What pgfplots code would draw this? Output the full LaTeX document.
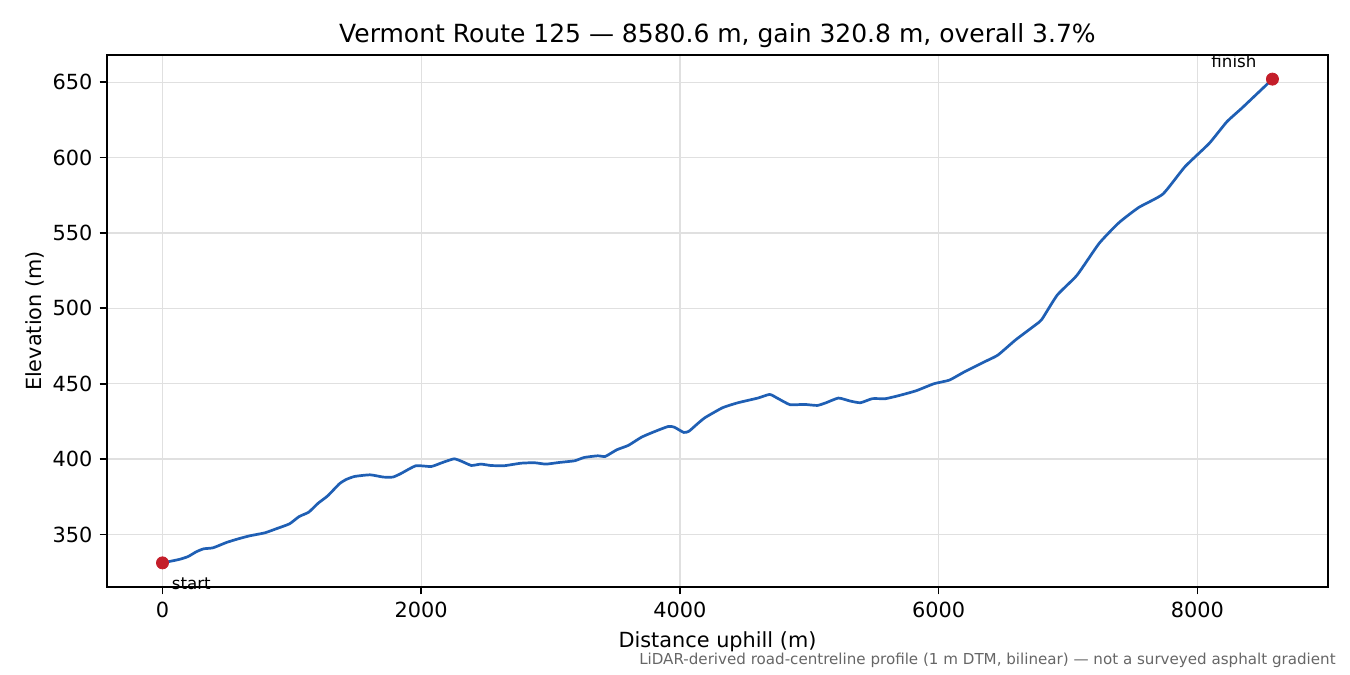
\documentclass[border=0pt]{standalone}
\usepackage{fontspec}
\setmainfont{DejaVu Sans}
\usepackage{pgfplots}
\pgfplotsset{compat=1.18}
\definecolor{routeblue}{HTML}{1F5FB4}
\definecolor{markred}{HTML}{C41E2A}
\definecolor{notegray}{HTML}{666666}

\begin{document}
\begin{tikzpicture}
  % 1 px of the reference = 0.48pt; axis box lower-left at px (107,587)
  \useasboundingbox (-51.36pt,-42.24pt) rectangle (596.64pt,281.76pt);
  \begin{axis}[
      scale only axis,
      width=586.08pt, height=255.36pt,
      xmin=-429, xmax=9010,
      ymin=315.2, ymax=668.0,
      xtick={0,2000,4000,6000,8000},
      ytick={350,400,450,500,550,600,650},
      /pgf/number format/1000 sep={},
      /pgf/number format/assume math mode=true,
      tick label style={font=\fontsize{10}{12}\selectfont},
      tick pos=left,
      tick align=outside,
      major tick length=3.5pt,
      every tick/.style={black, line width=0.8pt},
      axis line style={line width=0.8pt},
      grid=major,
      major grid style={color=black!12, line width=0.6pt},
      xlabel={Distance uphill (m)},
      ylabel={Elevation (m)},
      label style={font=\fontsize{10}{12}\selectfont},
      xlabel style={yshift=0pt},
      ylabel style={yshift=-3pt},
      title={Vermont Route 125 — 8580.6 m, gain 320.8 m, overall 3.7\%},
      title style={font=\fontsize{12}{14}\selectfont, yshift=-6pt},
      clip=false,
    ]
    \addplot[routeblue, line width=1.3pt, smooth, tension=0.3] coordinates {
      (0,331.2) (130,333.5) (198,335.4) (260,338.5) (317,340.5) (391,341.2)
      (494,344.7) (580,347) (672,349.1) (790,351.1) (879,353.8) (982,357.1)
      (1056,361.9) (1130,364.8) (1204,370.8) (1278,375.7) (1367,383.6)
      (1420,386.5) (1485,388.5) (1604,389.6) (1707,388.1) (1781,388.1)
      (1840,390.3) (1959,395.6) (2077,395.1) (2166,397.8) (2254,400.2)
      (2314,398.5) (2388,395.8) (2462,396.7) (2536,395.8) (2639,395.6)
      (2772,397.3) (2876,397.6) (2964,396.7) (3068,397.8) (3186,398.9)
      (3260,401.1) (3364,402.2) (3423,401.8) (3512,406.2) (3601,409.1)
      (3704,414.6) (3808,418.4) (3911,421.7) (3956,421.2) (4030,417.7)
      (4070,418.5) (4130,423) (4194,427.5) (4330,434.1) (4449,437.4)
      (4603,440.5) (4694,442.9) (4756,440.3) (4851,436.1) (4960,436.3)
      (5062,435.6) (5130,437.4) (5226,440.5) (5317,438.5) (5396,437.4)
      (5488,440.1) (5590,440.1) (5709,442.5) (5828,445.4) (5964,450)
      (6083,452.4) (6202,458) (6356,464.6) (6458,469) (6594,479)
      (6747,488.9) (6798,492.7) (6917,508.8) (7070,522) (7241,543.1)
      (7394,556.8) (7547,566.9) (7734,575.8) (7904,593.9) (8092,609.4)
      (8228,623.7) (8347,633) (8580.6,652.0)
    };
    % start / finish markers
    \addplot[only marks, mark=*, mark size=2.9pt, markred, mark options={draw=markred, fill=markred}]
      coordinates {(0,331.2) (8580.6,652.0)};
    \node[anchor=north west, font=\fontsize{8}{10}\selectfont, inner sep=0pt]
      at (axis cs:0,331.2) [xshift=4.3pt, yshift=-7pt] {start};
    \node[anchor=south east, font=\fontsize{8}{10}\selectfont, inner sep=0pt]
      at (axis cs:8580.6,652.0) [xshift=-7.5pt, yshift=5.5pt] {finish};
    \node[anchor=east, font=\fontsize{7.25}{9}\selectfont, text=notegray, inner sep=0pt]
      at (axis description cs:1.0066,-0.138)
      {LiDAR-derived road-centreline profile (1 m DTM, bilinear) — not a surveyed asphalt gradient};
  \end{axis}
\end{tikzpicture}
\end{document}
